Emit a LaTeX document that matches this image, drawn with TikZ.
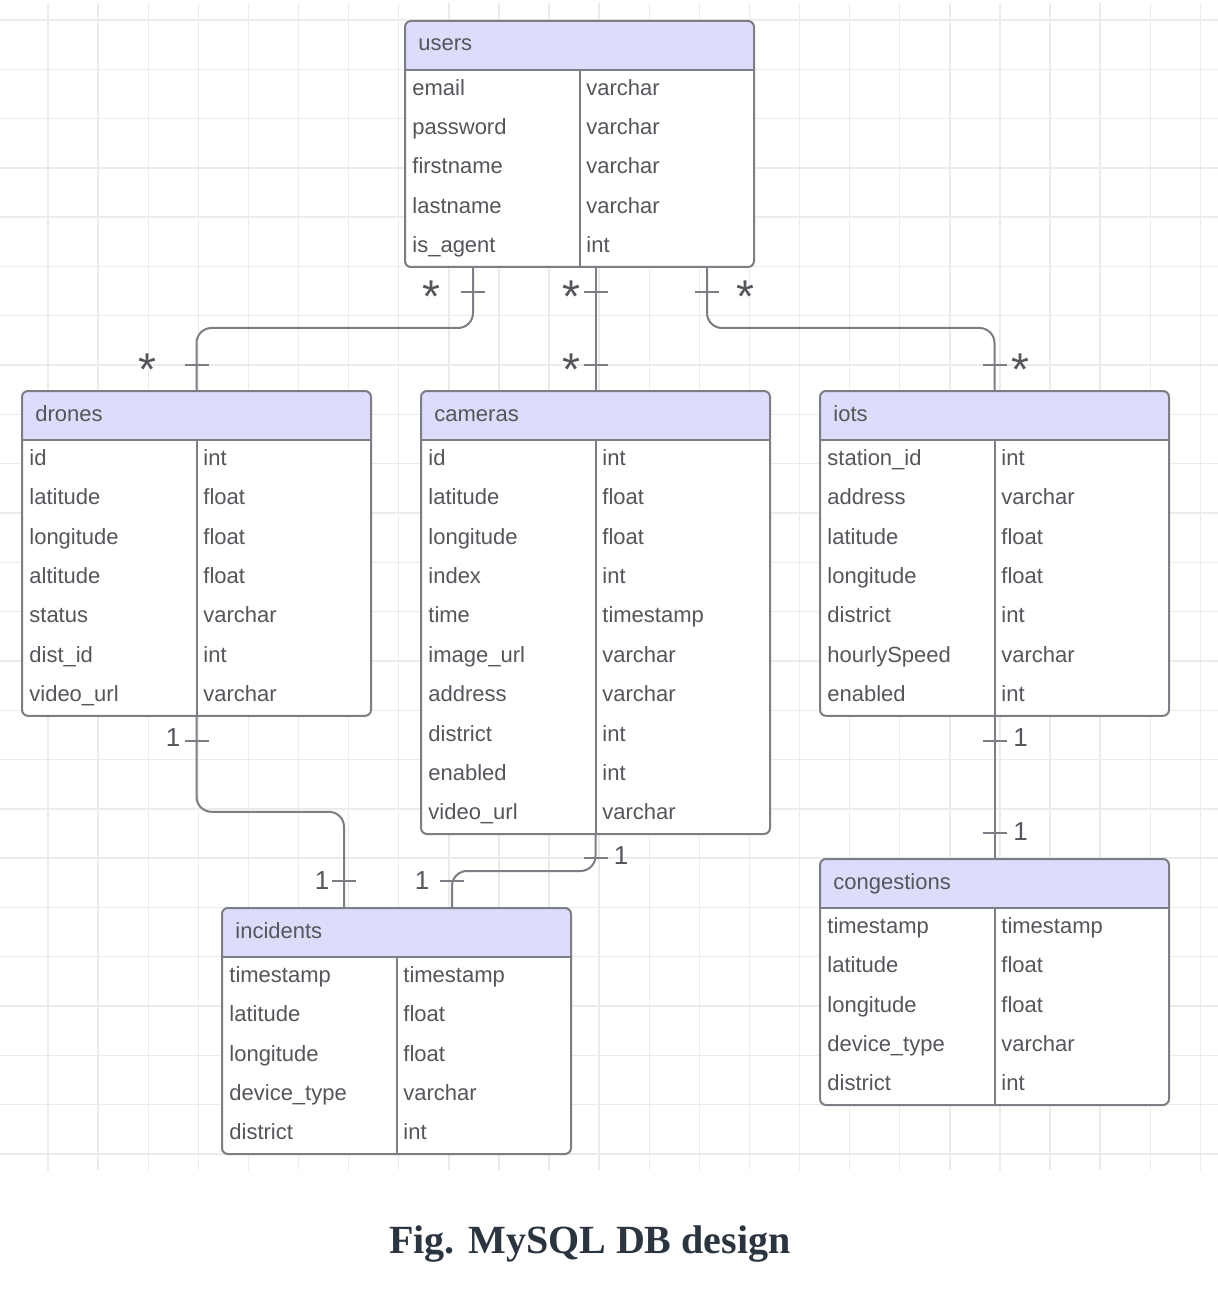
\documentclass[tikz,border=0pt]{standalone}
\usepackage{fontspec}
\setmainfont{Liberation Sans}
\newfontfamily\capfont{Liberation Serif}
\usetikzlibrary{calc}
\definecolor{gridc}{HTML}{EBEBEB}
\definecolor{linec}{HTML}{7C7E85}
\definecolor{hdrc}{RGB}{221,221,251}
\definecolor{txtc}{HTML}{55555C}
\definecolor{capc}{HTML}{2B3540}
\tikzset{
  tblbox/.style={fill=white, draw=none, rounded corners=3pt, inner sep=0pt, outer sep=0pt, anchor=north west, minimum width=174.5pt},
  tblline/.style={draw=linec, line width=1pt},
  celltxt/.style={text=txtc, font=\fontsize{11}{13}\selectfont, inner sep=0pt, anchor=base west},
  conn/.style={draw=linec, line width=1pt, rounded corners=7.5pt},
  tickmark/.style={draw=linec, line width=1pt},
  onelbl/.style={text=txtc, font=\fontsize{13}{15}\selectfont, inner sep=0pt, anchor=base},
  manylbl/.style={text=txtc, font=\fontsize{23}{25}\selectfont, inner sep=0pt, anchor=base},
  gridline/.style={draw=gridc, line width=0.7pt},
}
% #1 name, #2 x, #3 y, #4 number of rows, #5 title, #6 rows
\newcommand\ertable[6]{%
  \pgfmathsetmacro\erh{49+#4*39.4}%
  \pgfmathsetmacro\erhpt{\erh/2}%
  \node[tblbox, minimum height=\erhpt pt] (#1) at (#2,#3) {};
  \begin{scope}
    \clip[rounded corners=3pt] (#1.north west) rectangle (#1.south east);
    \fill[hdrc] (#1.north west) rectangle ($(#1.north east)+(0,49)$);
  \end{scope}
  \draw[tblline] ($(#1.north west)+(0,49)$) -- ($(#1.north east)+(0,49)$);
  \draw[tblline] ($(#1.north west)+(175,49)$) -- ($(#1.south west)+(175,0)$);
  \draw[tblline, rounded corners=3pt] (#1.north west) rectangle (#1.south east);
  \node[celltxt] (#1-title) at ($(#1.north west)+(13,30)$) {#5};
  \foreach \a/\b [count=\i] in {#6} {
    \node[celltxt] (#1-k\i) at ($(#1.north west)+(7,49+39.4*\i-14.2)$) {\a};
    \node[celltxt] (#1-t\i) at ($(#1.north west)+(181,49+39.4*\i-14.2)$) {\b};
  }
}
\begin{document}
\begin{tikzpicture}[x=0.5pt,y=-0.5pt]
\useasboundingbox (0,0) rectangle (1218,1294);
\fill[white] (0,0) rectangle (1218,1294);
% grid
\foreach \k in {0,...,23} \draw[gridline] ({48+50.1*\k},3) -- ({48+50.1*\k},1170);
\foreach \k in {0,...,23} \draw[gridline] (0,{20+49.3*\k}) -- (1218,{20+49.3*\k});

% tables
\ertable{users}{405}{21}{5}{users}{email/varchar, password/varchar, firstname/varchar, lastname/varchar, is\_agent/int}
\ertable{drones}{22}{391}{7}{drones}{id/int, latitude/float, longitude/float, altitude/float, status/varchar, dist\_id/int, video\_url/varchar}
\ertable{cameras}{421}{391}{10}{cameras}{id/int, latitude/float, longitude/float, index/int, time/timestamp, image\_url/varchar, address/varchar, district/int, enabled/int, video\_url/varchar}
\ertable{iots}{820}{391}{7}{iots}{station\_id/int, address/varchar, latitude/float, longitude/float, district/int, hourlySpeed/varchar, enabled/int}
\ertable{congestions}{820}{859}{5}{congestions}{timestamp/timestamp, latitude/float, longitude/float, device\_type/varchar, district/int}
\ertable{incidents}{222}{908}{5}{incidents}{timestamp/timestamp, latitude/float, longitude/float, device\_type/varchar, district/int}

% connector users - drones
\coordinate (u1) at ($(users.south west)+(68,0)$);
\draw[conn] (u1) -- ($(u1)+(0,61)$) -| (drones.north);
\draw[tickmark] ($(u1)+(-12,25)$) -- ++(24,0);
\draw[tickmark] ($(drones.north)+(-12,-26)$) -- ++(24,0);
\node[manylbl] (m1a) at ($(u1)+(-42,45.5)$) {*};
\node[manylbl] (m1b) at ($(drones.north)+(-49.5,-5.5)$) {*};

% connector users - cameras
\coordinate (u2) at (cameras.north |- users.south);
\draw[conn] (u2) -- (cameras.north);
\draw[tickmark] ($(u2)+(-12,25)$) -- ++(24,0);
\draw[tickmark] ($(cameras.north)+(-12,-26)$) -- ++(24,0);
\node[manylbl] (m2a) at ($(u2)+(-24.5,45.5)$) {*};
\node[manylbl] (m2b) at ($(cameras.north)+(-24.5,-5.5)$) {*};

% connector users - iots
\coordinate (u3) at ($(users.south west)+(302,0)$);
\draw[conn] (u3) -- ($(u3)+(0,61)$) -| (iots.north);
\draw[tickmark] ($(u3)+(-12,25)$) -- ++(24,0);
\draw[tickmark] ($(iots.north)+(-12,-26)$) -- ++(24,0);
\node[manylbl] (m3a) at ($(u3)+(38,45.5)$) {*};
\node[manylbl] (m3b) at ($(iots.north)+(26,-5.5)$) {*};

% connector drones - incidents
\coordinate (i1) at ($(incidents.north west)+(122,0)$);
\draw[conn] (drones.south) -- ($(drones.south)+(0,96)$) -| (i1);
\draw[tickmark] ($(drones.south)+(-12,25)$) -- ++(24,0);
\draw[tickmark] ($(i1)+(-12,-27)$) -- ++(24,0);
\node[onelbl] (o1a) at ($(drones.south)+(-23.5,30.3)$) {1};
\node[onelbl] (o1b) at ($(i1)+(-22,-18.7)$) {1};

% connector cameras - incidents
\coordinate (i2) at ($(incidents.north west)+(230,0)$);
\draw[conn] (cameras.south) -- ($(cameras.south)+(0,37)$) -| (i2);
\draw[tickmark] ($(cameras.south)+(-12,24)$) -- ++(24,0);
\draw[tickmark] ($(i2)+(-12,-27)$) -- ++(24,0);
\node[onelbl] (o2a) at ($(cameras.south)+(25.5,30.3)$) {1};
\node[onelbl] (o2b) at ($(i2)+(-30,-18.7)$) {1};

% connector iots - congestions
\draw[conn] (iots.south) -- (congestions.north);
\draw[tickmark] ($(iots.south)+(-12,25)$) -- ++(24,0);
\draw[tickmark] ($(congestions.north)+(-12,-26)$) -- ++(24,0);
\node[onelbl] (o3a) at ($(iots.south)+(26,30.5)$) {1};
\node[onelbl] (o3b) at ($(congestions.north)+(26,-18.7)$) {1};

% caption
\node[font=\capfont\bfseries\fontsize{20}{24}\selectfont, text=capc, anchor=base, inner sep=0pt] (caption) at (590,1253) {Fig. MySQL DB design};
\end{tikzpicture}
\end{document}
